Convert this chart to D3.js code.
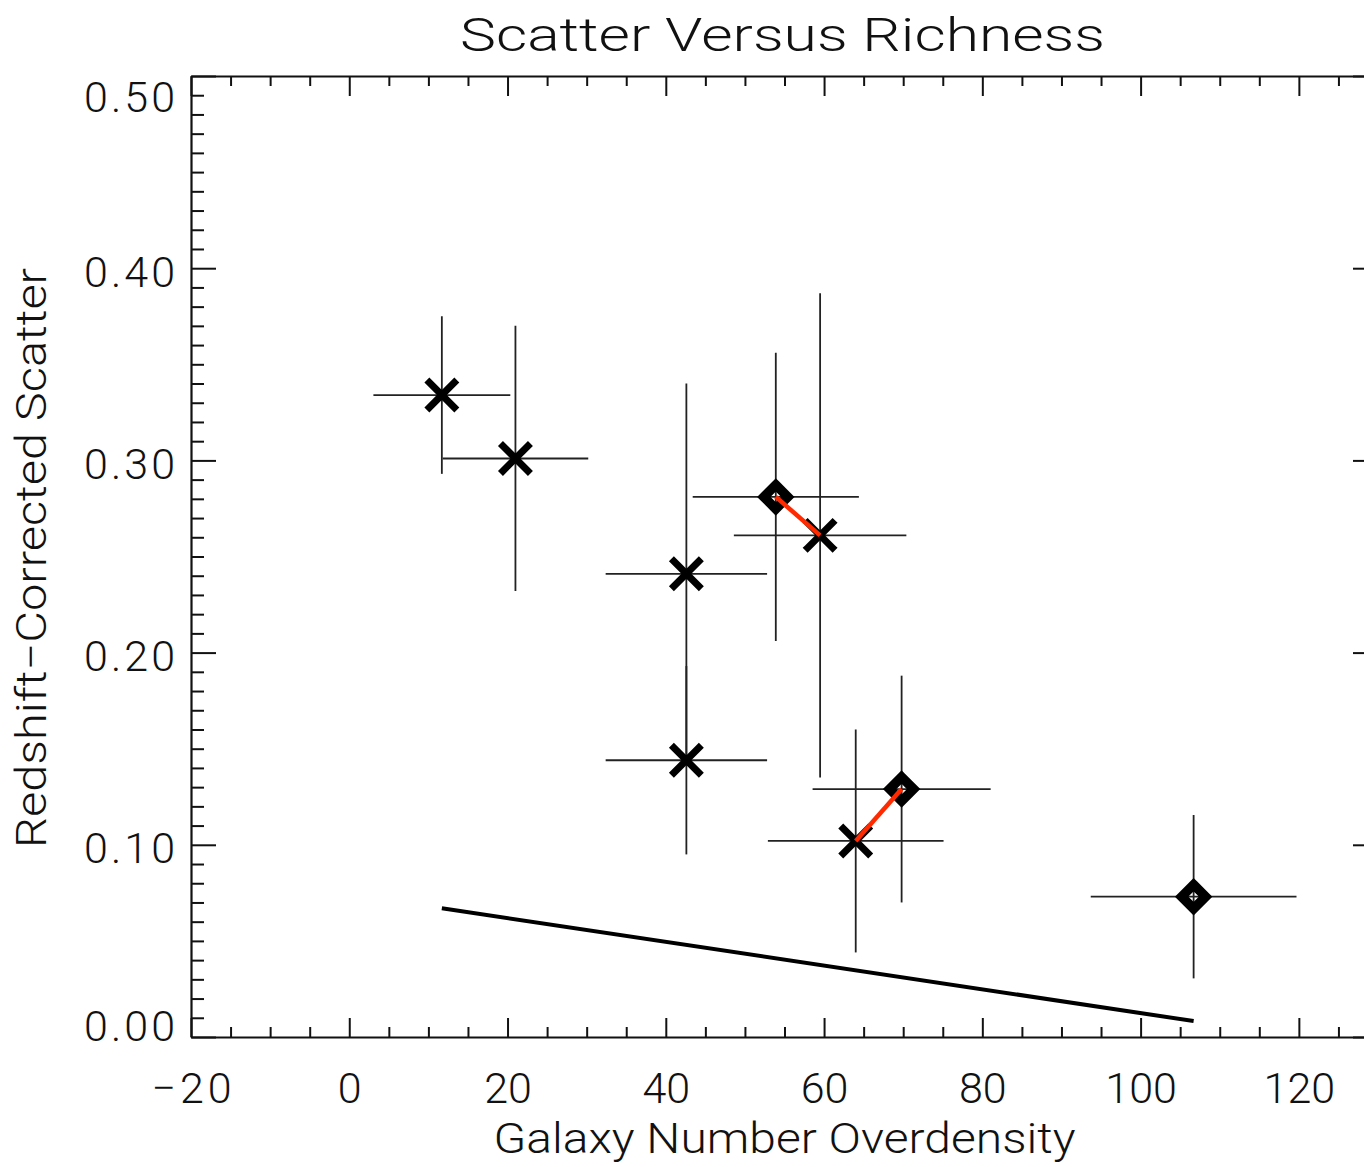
<!DOCTYPE html>
<html>
<head>
<meta charset="utf-8">
<script src="https://cdn.jsdelivr.net/npm/d3@7"></script>
<style>
  html, body { margin: 0; padding: 0; background: #fff; }
  svg text { font-family: Roboto, "Liberation Sans", sans-serif; font-weight: 300; fill: #111; }
</style>
</head>
<body>
<div id="chart--wrapper"></div>
<script>
// data
const richness = [11.7, 21.0, 53.9, 59.5, 42.6, 42.6, 64.0, 69.8, 106.7];
const richnessErr = [8.65, 9.2, 10.5, 10.9, 10.2, 10.2, 11.1, 11.25, 13.0];
const scatter = [0.334, 0.301, 0.281, 0.261, 0.241, 0.144, 0.102, 0.129, 0.073];
const scatterErr = [0.041, 0.069, 0.075, 0.126, 0.099, 0.049, 0.058, 0.059, 0.0425];
const symbols = ['x', 'x', 'diamond', 'x', 'x', 'x', 'x', 'diamond', 'diamond'];
// pairs of points joined by a red segment
const links = [[2, 3], [6, 7]];
// straight fit line
const fitX = [11.7, 106.7];
const fitY = [0.067, 0.0083];
// ticks
const xTicks = [-20, 0, 20, 40, 60, 80, 100, 120];
const yTicks = [0, 0.1, 0.2, 0.3, 0.4, 0.5];
const xDomain = [-20, 130];
const yDomain = [0, 0.5];

(function () {
const W = 1364;
const H = 1167;
const pLeft = 191;
const pRight = 1378;
const pTop = 76;
const pBottom = 1037;
const fontSize = 43;

const svg = d3.select('#chart--wrapper').append('svg')
  .attr('width', W)
  .attr('height', H);

const xScale = d3.scaleLinear().domain(xDomain).range([pLeft, pRight]);
const yScale = d3.scaleLinear().domain(yDomain).range([pBottom, pTop]);

const xMinor = d3.range(-20, 131, 5).filter(function (v) { return xTicks.indexOf(v) < 0; });
const yMinor = d3.range(0, 51).filter(function (v) { return v % 10 !== 0; })
  .map(function (v) { return v / 100; });

function styleAxis(g) {
  g.selectAll('path.domain').attr('stroke', '#111').attr('stroke-width', 2.2);
  g.selectAll('.tick line').attr('stroke', '#111').attr('stroke-width', 2);
}

// bottom axis
const gx = svg.append('g')
  .attr('transform', 'translate(0,' + pBottom + ')')
  .call(d3.axisBottom(xScale).tickValues(xTicks).tickSizeInner(-19).tickSizeOuter(0).tickPadding(35)
    .tickFormat(function (d) { return d < 0 ? '\u2212' + Math.abs(d) : d; }));
gx.call(styleAxis);
gx.selectAll('text').attr('font-size', fontSize).attr('font-family', null);
gx.selectAll('.tick').filter(function (d) { return d < 0; }).select('text')
  .attr('textLength', 80).attr('lengthAdjust', 'spacing');

svg.append('g')
  .attr('transform', 'translate(0,' + pBottom + ')')
  .call(d3.axisBottom(xScale).tickValues(xMinor).tickSizeInner(-10).tickSizeOuter(0).tickFormat(''))
  .call(styleAxis)
  .call(function (g) { g.select('.domain').remove(); });

// top axis
svg.append('g')
  .attr('transform', 'translate(0,' + pTop + ')')
  .call(d3.axisTop(xScale).tickValues(xTicks).tickSizeInner(-20).tickSizeOuter(0).tickFormat(''))
  .call(styleAxis);
svg.append('g')
  .attr('transform', 'translate(0,' + pTop + ')')
  .call(d3.axisTop(xScale).tickValues(xMinor).tickSizeInner(-10).tickSizeOuter(0).tickFormat(''))
  .call(styleAxis)
  .call(function (g) { g.select('.domain').remove(); });

// left axis
const gy = svg.append('g')
  .attr('transform', 'translate(' + pLeft + ',0)')
  .call(d3.axisLeft(yScale).tickValues(yTicks).tickSizeInner(-25).tickSizeOuter(0).tickPadding(16)
    .tickFormat(d3.format('.2f')));
gy.call(styleAxis);
gy.selectAll('text').attr('font-size', fontSize).attr('font-family', null).attr('dy', '0.42em')
  .attr('textLength', 91).attr('lengthAdjust', 'spacing');
// the end labels sit inside the frame
gy.selectAll('.tick').filter(function (d) { return d === 0.5; }).select('text').attr('y', 17);
gy.selectAll('.tick').filter(function (d) { return d === 0; }).select('text').attr('y', -15);

svg.append('g')
  .attr('transform', 'translate(' + pLeft + ',0)')
  .call(d3.axisLeft(yScale).tickValues(yMinor).tickSizeInner(-13).tickSizeOuter(0).tickFormat(''))
  .call(styleAxis)
  .call(function (g) { g.select('.domain').remove(); });

// right axis (mostly off the edge)
svg.append('g')
  .attr('transform', 'translate(' + pRight + ',0)')
  .call(d3.axisRight(yScale).tickValues(yTicks).tickSizeInner(-25).tickSizeOuter(0).tickFormat(''))
  .call(styleAxis);
svg.append('g')
  .attr('transform', 'translate(' + pRight + ',0)')
  .call(d3.axisRight(yScale).tickValues(yMinor).tickSizeInner(-13).tickSizeOuter(0).tickFormat(''))
  .call(styleAxis)
  .call(function (g) { g.select('.domain').remove(); });

// titles
svg.append('text')
  .attr('x', (pLeft + pRight) / 2 - 2)
  .attr('y', 51)
  .attr('text-anchor', 'middle')
  .attr('font-size', 47)
  .attr('textLength', 645)
  .attr('lengthAdjust', 'spacingAndGlyphs')
  .text('Scatter Versus Richness');

svg.append('text')
  .attr('x', (pLeft + pRight) / 2)
  .attr('y', 1153)
  .attr('text-anchor', 'middle')
  .attr('font-size', fontSize)
  .attr('textLength', 582)
  .attr('lengthAdjust', 'spacingAndGlyphs')
  .text('Galaxy Number Overdensity');

svg.append('text')
  .attr('transform', 'translate(46,558) rotate(-90)')
  .attr('text-anchor', 'middle')
  .attr('font-size', fontSize)
  .attr('textLength', 580)
  .attr('lengthAdjust', 'spacingAndGlyphs')
  .text('Redshift\u2212Corrected Scatter');

const points = richness.map(function (r, i) {
  return { x: r, xe: richnessErr[i], y: scatter[i], ye: scatterErr[i], sym: symbols[i] };
});

// fit line
svg.append('path')
  .datum(d3.zip(fitX, fitY))
  .attr('fill', 'none')
  .attr('stroke', '#000')
  .attr('stroke-width', 4)
  .attr('d', d3.line().x(function (d) { return xScale(d[0]); }).y(function (d) { return yScale(d[1]); }));

// error bars
const bars = svg.append('g').attr('stroke', '#222').attr('stroke-width', 1.8);
bars.selectAll('.xerr').data(points).enter().append('line')
  .attr('x1', function (d) { return xScale(d.x - d.xe); })
  .attr('x2', function (d) { return xScale(d.x + d.xe); })
  .attr('y1', function (d) { return yScale(d.y); })
  .attr('y2', function (d) { return yScale(d.y); });
bars.selectAll('.yerr').data(points).enter().append('line')
  .attr('x1', function (d) { return xScale(d.x); })
  .attr('x2', function (d) { return xScale(d.x); })
  .attr('y1', function (d) { return yScale(d.y - d.ye); })
  .attr('y2', function (d) { return yScale(d.y + d.ye); });

// symbols
const xs = 12.5;
svg.selectAll('.sym-x').data(points.filter(function (d) { return d.sym === 'x'; })).enter()
  .append('path')
  .attr('fill', 'none')
  .attr('stroke', '#000')
  .attr('stroke-width', 7)
  .attr('stroke-linecap', 'square')
  .attr('d', function (d) {
    const cx = xScale(d.x);
    const cy = yScale(d.y);
    return 'M' + (cx - xs) + ',' + (cy - xs) + 'L' + (cx + xs) + ',' + (cy + xs) +
      'M' + (cx - xs) + ',' + (cy + xs) + 'L' + (cx + xs) + ',' + (cy - xs);
  });

const ds = 12;
svg.selectAll('.sym-d').data(points.filter(function (d) { return d.sym === 'diamond'; })).enter()
  .append('path')
  .attr('fill', 'none')
  .attr('stroke', '#000')
  .attr('stroke-width', 9.5)
  .attr('stroke-linejoin', 'miter')
  .attr('d', function (d) {
    const cx = xScale(d.x);
    const cy = yScale(d.y);
    return 'M' + cx + ',' + (cy - ds) + 'L' + (cx + ds) + ',' + cy + 'L' + cx + ',' + (cy + ds) +
      'L' + (cx - ds) + ',' + cy + 'Z';
  });

// red links
svg.selectAll('.link').data(links).enter().append('line')
  .attr('stroke', '#ff2a00')
  .attr('stroke-width', 4.5)
  .attr('x1', function (d) { return xScale(points[d[0]].x); })
  .attr('y1', function (d) { return yScale(points[d[0]].y); })
  .attr('x2', function (d) { return xScale(points[d[1]].x); })
  .attr('y2', function (d) { return yScale(points[d[1]].y); });
})();
</script>
</body>
</html>
